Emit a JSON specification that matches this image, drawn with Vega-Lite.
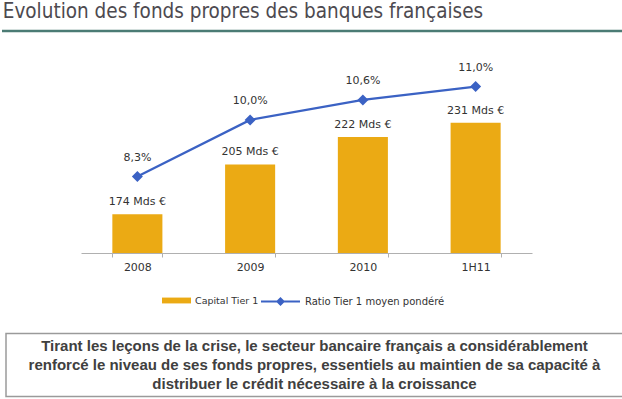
{
  "$schema": "https://vega.github.io/schema/vega-lite/v6.json",
  "padding": {"top": 1.5, "left": 0, "right": 0, "bottom": 0},
  "background": "white",
  "spacing": 23,
  "config": {
    "view": {"stroke": null},
    "font": "DejaVu Sans"
  },
  "resolve": {"scale": {"fill": "independent", "stroke": "independent"}, "legend": {"fill": "independent", "stroke": "independent"}},
  "vconcat": [
    {
      "spacing": 27.5,
      "resolve": {"scale": {"fill": "independent", "stroke": "independent"}, "legend": {"fill": "independent", "stroke": "independent"}},
      "vconcat": [
        {
          "width": 622,
          "height": 3,
          "title": {"text": "Evolution des fonds propres des banques françaises", "anchor": "start", "dx": 2, "offset": 7.5, "font": "DejaVu Sans Condensed", "fontSize": 20.5, "fontWeight": "normal", "color": "#4d4a50"},
          "data": {"values": [{"niveau": 0.5}]},
          "mark": {"type": "rule", "color": "#4b7b74", "strokeWidth": 2.5},
          "encoding": {
            "y": {"field": "niveau", "type": "quantitative", "scale": {"domain": [0, 1]}, "axis": null}
          }
        },
        {
          "spacing": 78,
          "resolve": {"scale": {"fill": "independent", "stroke": "independent"}, "legend": {"fill": "independent", "stroke": "independent"}},
          "hconcat": [
            {
              "width": 1,
              "height": 1,
              "data": {"values": [{}]},
              "mark": {"type": "rule", "opacity": 0},
              "encoding": {}
            },
            {
              "width": 451,
              "height": 192,
              "data": {"values": [
                {"periode": "2008", "capital": 174, "ratio": 8.3, "etiquette_capital": "174 Mds €", "etiquette_ratio": "8,3%"},
                {"periode": "2009", "capital": 205, "ratio": 10.0, "etiquette_capital": "205 Mds €", "etiquette_ratio": "10,0%"},
                {"periode": "2010", "capital": 222, "ratio": 10.6, "etiquette_capital": "222 Mds €", "etiquette_ratio": "10,6%"},
                {"periode": "1H11", "capital": 231, "ratio": 11.0, "etiquette_capital": "231 Mds €", "etiquette_ratio": "11,0%"}
              ]},
              "encoding": {
                "x": {
                  "field": "periode", "type": "ordinal", "sort": null,
                  "scale": {"paddingInner": 0.556, "paddingOuter": 0.278},
                  "axis": {"title": null, "labelAngle": 0, "tickBand": "extent", "domainColor": "#b0b0b0", "tickColor": "#b0b0b0", "tickSize": 4, "labelPadding": 4, "labelFont": "DejaVu Sans", "labelFontSize": 11, "labelColor": "#333333"}
                }
              },
              "layer": [
                {
                  "layer": [
                    {
                      "mark": {"type": "bar"},
                      "encoding": {
                        "y": {"field": "capital", "type": "quantitative", "scale": {"domain": [150, 269.3], "nice": false, "zero": false}, "axis": null},
                        "y2": {"datum": 150},
                        "fill": {"datum": "Capital Tier 1", "scale": {"range": ["#EBAA14"]},
                          "legend": {"orient": "none", "legendX": 71, "legendY": 220, "direction": "horizontal", "title": null, "symbolType": "M-0.487,-0.15H1V0.15H-0.487Z", "symbolSize": 1521, "symbolStrokeWidth": 0, "labelOffset": 4, "labelFont": "DejaVu Sans", "labelFontSize": 9.5, "labelColor": "#333333"}}
                      }
                    },
                    {
                      "mark": {"type": "text", "dy": -12, "baseline": "middle", "fontSize": 11, "color": "#333333"},
                      "encoding": {
                        "y": {"field": "capital", "type": "quantitative"},
                        "text": {"field": "etiquette_capital"}
                      }
                    }
                  ]
                },
                {
                  "layer": [
                    {
                      "mark": {"type": "line", "strokeWidth": 2.2},
                      "encoding": {
                        "y": {"field": "ratio", "type": "quantitative", "scale": {"domain": [6, 11.77], "nice": false, "zero": false}, "axis": null},
                        "stroke": {"datum": "Ratio Tier 1 moyen pondéré", "scale": {"range": ["#3B62C4"]},
                          "legend": {"orient": "none", "legendX": 179, "legendY": 220, "direction": "horizontal", "title": null, "symbolType": "M-1,0H1M0,-0.16L0.16,0L0,0.16L-0.16,0Z", "symbolSize": 1521, "symbolStrokeWidth": 2, "labelOffset": 4, "labelFont": "DejaVu Sans", "labelFontSize": 10, "labelColor": "#333333",
                            "encode": {"symbols": {"update": {"fill": {"value": "#3B62C4"}}}}}}
                      }
                    },
                    {
                      "mark": {"type": "point", "shape": "diamond", "filled": true, "size": 121, "color": "#3B62C4", "opacity": 1},
                      "encoding": {
                        "y": {"field": "ratio", "type": "quantitative"}
                      }
                    },
                    {
                      "mark": {"type": "text", "dy": -18.5, "baseline": "middle", "fontSize": 11, "color": "#333333"},
                      "encoding": {
                        "y": {"field": "ratio", "type": "quantitative"},
                        "text": {"field": "etiquette_ratio"}
                      }
                    }
                  ]
                }
              ],
              "resolve": {"scale": {"y": "independent"}}
            }
          ]
        }
      ]
    },
    {
      "spacing": 2,
      "hconcat": [
        {
          "width": 1,
          "height": 1,
          "data": {"values": [{}]},
          "mark": {"type": "rule", "opacity": 0},
          "encoding": {}
        },
        {
          "width": 617,
          "height": 63,
          "view": {"stroke": "#9a9a9a", "strokeWidth": 1.5},
          "data": {"values": [
            {"ligne": 1, "texte": "Tirant les leçons de la crise, le secteur bancaire français a considérablement"},
            {"ligne": 2, "texte": "renforcé le niveau de ses fonds propres, essentiels au maintien de sa capacité à"},
            {"ligne": 3, "texte": "distribuer le crédit nécessaire à la croissance"}
          ]},
          "mark": {"type": "text", "font": "Liberation Sans", "fontWeight": "bold", "fontSize": 15, "color": "#404040", "align": "center", "baseline": "middle"},
          "encoding": {
            "y": {"field": "ligne", "type": "ordinal", "scale": {"padding": 0.68}, "axis": null},
            "text": {"field": "texte"}
          }
        }
      ]
    }
  ]
}
